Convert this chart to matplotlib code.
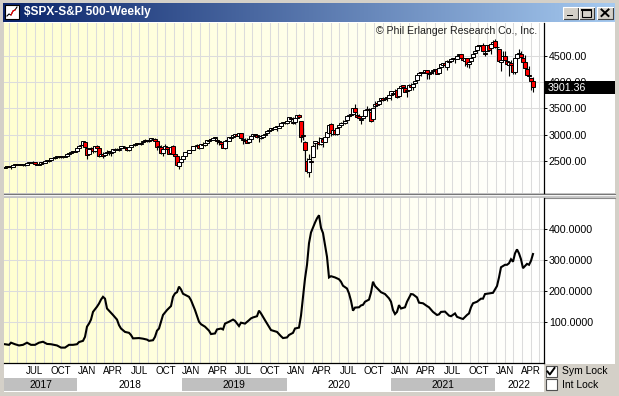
import numpy as np
import matplotlib as mpl
mpl.use('Agg')
import matplotlib.pyplot as plt
from matplotlib.patches import Rectangle
from matplotlib import transforms

plt.rcParams['font.family'] = ['Liberation Sans', 'DejaVu Sans']

# weekly S&P 500 candles, week ending 2017-04-28 .. 2022-05-20
open_17 = [2370, 2389, 2400, 2393, 2387, 2415, 2437, 2434, 2436, 2440, 2422, 2427, 2460, 2476, 2471, 2475, 2441, 2427,
           2445, 2477, 2466, 2501, 2504, 2521, 2552, 2555, 2580, 2583, 2588, 2580, 2582, 2603, 2640, 2652, 2679, 2684]
high_17 = [2399, 2400, 2404, 2406, 2418, 2440, 2447, 2441, 2441, 2443, 2433, 2464, 2478, 2484, 2491, 2475, 2449, 2451,
           2485, 2477, 2500, 2508, 2521, 2552, 2557, 2575, 2582, 2597, 2595, 2597, 2605, 2658, 2652, 2691, 2695, 2686]
low_17 = [2367, 2378, 2381, 2353, 2386, 2412, 2416, 2419, 2431, 2406, 2407, 2419, 2457, 2459, 2467, 2437, 2418, 2417,
          2444, 2446, 2459, 2496, 2488, 2520, 2542, 2547, 2560, 2566, 2566, 2557, 2577, 2601, 2605, 2647, 2673, 2673]
close_17 = [2384, 2399, 2391, 2382, 2416, 2439, 2432, 2433, 2438, 2423, 2425, 2459, 2473, 2472, 2477, 2441, 2426, 2443,
            2477, 2461, 2500, 2502, 2519, 2549, 2553, 2575, 2581, 2588, 2582, 2579, 2602, 2642, 2652, 2676, 2683, 2674]

open_18 = [2683, 2745, 2799, 2809, 2867, 2741, 2637, 2722, 2745, 2681, 2790, 2752, 2592, 2633, 2614, 2659, 2680, 2643,
           2669, 2722, 2717, 2706, 2741, 2782, 2774, 2742, 2704, 2765, 2796, 2806, 2821, 2840, 2826, 2858, 2878, 2898,
           2881, 2906, 2925, 2926, 2882, 2763, 2773, 2645, 2726, 2774, 2730, 2659, 2790, 2631, 2590, 2401]
high_18 = [2744, 2800, 2818, 2873, 2870, 2763, 2755, 2761, 2790, 2787, 2802, 2762, 2659, 2672, 2675, 2718, 2683, 2685,
           2732, 2742, 2743, 2742, 2791, 2790, 2774, 2745, 2764, 2805, 2815, 2848, 2842, 2848, 2855, 2877, 2916, 2898,
           2907, 2941, 2940, 2939, 2894, 2817, 2797, 2736, 2815, 2775, 2735, 2760, 2800, 2685, 2601, 2520]
low_18 = [2682, 2743, 2769, 2808, 2759, 2533, 2637, 2690, 2647, 2676, 2742, 2585, 2594, 2553, 2610, 2636, 2612, 2594,
          2663, 2700, 2708, 2699, 2740, 2755, 2741, 2698, 2698, 2764, 2789, 2795, 2804, 2826, 2799, 2853, 2878, 2864,
          2865, 2904, 2905, 2875, 2710, 2750, 2628, 2603, 2721, 2671, 2631, 2649, 2621, 2584, 2409, 2347]
close_18 = [2743, 2786, 2810, 2873, 2762, 2620, 2732, 2747, 2691, 2787, 2752, 2588, 2641, 2604, 2656, 2670, 2670, 2663,
            2728, 2713, 2721, 2735, 2779, 2779, 2755, 2718, 2760, 2801, 2802, 2819, 2840, 2833, 2850, 2875, 2902, 2872,
            2905, 2930, 2914, 2886, 2767, 2768, 2659, 2723, 2781, 2736, 2633, 2760, 2633, 2600, 2417, 2486]

open_19 = [2476, 2531, 2597, 2670, 2658, 2703, 2713, 2780, 2798, 2800, 2750, 2812, 2796, 2848, 2889, 2910, 2898, 2941,
           2908, 2863, 2862, 2832, 2752, 2882, 2886, 2951, 2964, 2979, 3017, 2981, 3034, 2898, 2896, 2898, 2866, 2910,
           2980, 3003, 2996, 2967, 2944, 2963, 2996, 3031, 3078, 3096, 3118, 3117, 3144, 3135, 3166, 3227]
high_19 = [2539, 2598, 2675, 2681, 2709, 2727, 2776, 2797, 2816, 2804, 2830, 2860, 2840, 2894, 2911, 2916, 2940, 2954,
           2941, 2892, 2868, 2840, 2876, 2911, 2964, 2964, 2996, 3018, 3018, 3028, 3028, 2944, 2941, 2940, 2940, 2985,
           3021, 3022, 2999, 2993, 2993, 3000, 3028, 3067, 3098, 3120, 3127, 3145, 3150, 3183, 3226, 3248]
low_19 = [2444, 2520, 2595, 2631, 2653, 2681, 2703, 2770, 2774, 2729, 2747, 2786, 2785, 2848, 2869, 2896, 2898, 2920,
          2825, 2801, 2805, 2750, 2728, 2870, 2880, 2913, 2954, 2963, 2967, 2975, 2914, 2822, 2834, 2834, 2855, 2906,
          2978, 2983, 2942, 2855, 2918, 2952, 2978, 3019, 3051, 3080, 3091, 3111, 3070, 3131, 3166, 3227]
close_19 = [2532, 2596, 2671, 2665, 2707, 2708, 2776, 2793, 2804, 2743, 2822, 2801, 2834, 2893, 2907, 2905, 2940, 2946,
            2881, 2860, 2826, 2752, 2873, 2887, 2950, 2942, 2990, 3014, 2977, 3026, 2932, 2919, 2889, 2847, 2926, 2979,
            3007, 2992, 2962, 2952, 2970, 2986, 3023, 3067, 3093, 3120, 3110, 3141, 3146, 3169, 3221, 3240]

open_20 = [3248, 3217, 3271, 3323, 3247, 3235, 3318, 3369, 3257, 2974, 2863, 2508, 2290, 2499, 2578, 2842, 2845, 2869,
           2815, 2915, 2868, 2949, 3038, 3199, 3017, 3094, 3018, 3155, 3191, 3224, 3219, 3288, 3357, 3368, 3398, 3509,
           3370, 3352, 3285, 3326, 3349, 3491, 3493, 3441, 3296, 3553, 3600, 3579, 3653, 3698, 3680, 3722, 3694]
high_20 = [3259, 3275, 3330, 3338, 3333, 3337, 3381, 3393, 3259, 3137, 2883, 2553, 2637, 2641, 2818, 2880, 2888, 2955,
           2938, 2933, 2957, 3068, 3211, 3233, 3155, 3099, 3166, 3186, 3238, 3279, 3273, 3352, 3388, 3399, 3510, 3588,
           3426, 3391, 3324, 3372, 3486, 3549, 3502, 3464, 3529, 3646, 3623, 3645, 3706, 3712, 3727, 3726, 3760]
low_20 = [3214, 3212, 3263, 3281, 3214, 3214, 3315, 3328, 2855, 2901, 2478, 2280, 2192, 2447, 2578, 2762, 2727, 2798,
          2798, 2767, 2853, 2910, 3025, 2984, 3000, 2999, 3001, 3100, 3164, 3198, 3204, 3282, 3328, 3355, 3387, 3349,
          3330, 3292, 3209, 3324, 3344, 3441, 3415, 3234, 3280, 3511, 3545, 3567, 3624, 3634, 3663, 3636, 3694]
close_20 = [3235, 3265, 3330, 3295, 3226, 3328, 3380, 3338, 2954, 2972, 2711, 2305, 2541, 2489, 2790, 2875, 2837, 2831,
            2930, 2864, 2955, 3044, 3194, 3041, 3098, 3009, 3130, 3185, 3225, 3216, 3271, 3351, 3373, 3397, 3508, 3427,
            3341, 3319, 3298, 3348, 3477, 3484, 3465, 3270, 3509, 3585, 3558, 3638, 3699, 3663, 3709, 3703, 3756]

open_21 = [3764, 3803, 3788, 3851, 3732, 3892, 3939, 3885, 3842, 3844, 3942, 3916, 3993, 4034, 4130, 4189, 4186, 4191,
           4228, 4169, 4168, 4216, 4230, 4248, 4174, 4284, 4326, 4372, 4296, 4409, 4406, 4437, 4462, 4450, 4513, 4532,
           4469, 4407, 4459, 4348, 4409, 4475, 4553, 4610, 4708, 4689, 4712, 4550, 4589, 4710, 4652, 4733]
high_21 = [3827, 3810, 3862, 3852, 3888, 3938, 3950, 3929, 3901, 3961, 3983, 3978, 4021, 4129, 4192, 4195, 4219, 4238,
           4238, 4188, 4211, 4234, 4255, 4257, 4287, 4356, 4372, 4394, 4415, 4429, 4440, 4468, 4469, 4510, 4546, 4536,
           4487, 4465, 4466, 4429, 4476, 4559, 4608, 4718, 4715, 4717, 4744, 4652, 4713, 4732, 4741, 4808]
low_21 = [3662, 3764, 3786, 3694, 3725, 3885, 3885, 3805, 3723, 3830, 3894, 3853, 3955, 4034, 4125, 4118, 4168, 4172,
          4057, 4062, 4152, 4164, 4218, 4165, 4174, 4279, 4289, 4319, 4233, 4367, 4385, 4425, 4367, 4437, 4509, 4457,
          4429, 4306, 4288, 4279, 4397, 4475, 4547, 4596, 4630, 4665, 4585, 4495, 4588, 4603, 4531, 4733]
close_21 = [3825, 3768, 3841, 3714, 3887, 3935, 3907, 3811, 3842, 3943, 3913, 3975, 4020, 4129, 4185, 4180, 4181, 4233,
            4174, 4156, 4204, 4230, 4247, 4166, 4281, 4352, 4370, 4327, 4412, 4395, 4437, 4468, 4442, 4509, 4535, 4459,
            4433, 4455, 4357, 4391, 4471, 4545, 4605, 4698, 4683, 4698, 4595, 4538, 4712, 4621, 4726, 4766]

open_22 = [4778, 4665, 4632, 4381, 4432, 4505, 4412, 4333, 4363, 4327, 4202, 4462, 4541, 4547, 4463, 4385, 4261, 4130,
           4082, 4021]
high_22 = [4818, 4749, 4632, 4453, 4596, 4589, 4490, 4385, 4416, 4258, 4465, 4546, 4637, 4593, 4471, 4513, 4308, 4307,
           4081, 4091]
low_22 = [4662, 4582, 4395, 4223, 4425, 4401, 4323, 4115, 4262, 4157, 4162, 4423, 4516, 4450, 4381, 4270, 4129, 4063,
          3859, 3810]
close_22 = [4677, 4663, 4398, 4432, 4501, 4419, 4349, 4385, 4329, 4204, 4463, 4543, 4546, 4488, 4393, 4272, 4132, 4123,
            4024, 3901]

last_close = 3901.36

# lower indicator (week index, value)
osc_week = [0, 2, 3, 5, 7, 9, 11, 13, 15, 17, 19, 21, 23, 26, 28, 30, 32, 34, 36, 37, 39, 40, 41, 42, 43, 44, 46, 47,
            48, 49, 50, 51, 52, 54, 56, 57, 58, 60, 62, 63, 64, 67, 69, 71, 72, 74, 75, 76, 77, 78, 79, 81, 83, 84, 85,
            86, 87, 88, 89, 92, 93, 95, 97, 98, 100, 102, 103, 105, 106, 108, 109, 110, 112, 114, 115, 117, 118, 120,
            122, 123, 124, 126, 127, 128, 130, 132, 133, 136, 138, 139, 141, 142, 144, 145, 147, 148, 149, 150, 151,
            152, 153, 154, 155, 156, 157, 158, 159, 160, 161, 162, 163, 165, 167, 168, 169, 171, 172, 173, 174, 175,
            177, 178, 179, 180, 182, 183, 184, 185, 187, 188, 190, 192, 193, 194, 195, 196, 197, 198, 200, 201, 203,
            204, 206, 207, 209, 211, 212, 214, 216, 217, 218, 220, 222, 223, 225, 226, 228, 229, 231, 232, 233, 234,
            236, 238, 239, 240, 242, 244, 245, 246, 247, 248, 250, 251, 252, 253, 254, 255, 256, 257, 258, 259, 260,
            261, 262, 263, 264]
osc_value = [27, 25, 32, 27, 23, 25, 32, 25, 25, 32, 35, 28, 27, 23, 16, 16, 25, 25, 27, 34, 38, 51, 84, 94, 107, 132,
             149, 159, 172, 181, 175, 143, 136, 122, 107, 89, 78, 67, 64, 57, 46, 47, 45, 42, 38, 40, 51, 71, 78, 100,
             122, 138, 151, 181, 192, 196, 214, 205, 191, 181, 170, 138, 100, 92, 84, 71, 60, 62, 75, 78, 75, 94, 100,
             107, 103, 86, 97, 94, 105, 111, 114, 118, 136, 127, 105, 84, 73, 67, 53, 47, 49, 57, 64, 78, 81, 120, 181,
             240, 285, 355, 390, 406, 422, 436, 446, 405, 388, 350, 311, 244, 248, 244, 238, 230, 217, 208, 192, 168,
             136, 146, 147, 153, 155, 165, 172, 195, 230, 216, 203, 196, 190, 176, 165, 138, 125, 132, 154, 143, 147,
             165, 190, 189, 179, 162, 160, 151, 147, 132, 122, 124, 132, 133, 120, 118, 127, 116, 111, 109, 122, 127,
             147, 160, 165, 175, 175, 190, 192, 194, 205, 216, 244, 277, 285, 285, 290, 303, 295, 322, 335, 322, 303,
             274, 281, 288, 285, 298, 320]

price_ticks = [2500, 3000, 3500, 4000, 4500]
osc_ticks = [100, 200, 300, 400]
month_names = ['JUL', 'OCT', 'JAN', 'APR', 'JUL', 'OCT', 'JAN', 'APR', 'JUL', 'OCT',
               'JAN', 'APR', 'JUL', 'OCT', 'JAN', 'APR', 'JUL', 'OCT', 'JAN', 'APR']
month_pos = [14.9, 27.95, 41.0, 54.05, 67.1, 80.15, 93.2, 106.25, 119.3, 132.35,
             145.4, 158.45, 171.5, 184.55, 197.6, 210.65, 223.7, 236.75, 249.8, 262.85]
year_names = ['2017', '2018', '2019', '2020', '2021', '2022']
year_edges = [-0.5, 36.1, 88.6, 140.8, 193.0, 245.0, 269.5]

o = np.array(open_17 + open_18 + open_19 + open_20 + open_21 + open_22, float)
h = np.array(high_17 + high_18 + high_19 + high_20 + high_21 + high_22, float)
l = np.array(low_17 + low_18 + low_19 + low_20 + low_21 + low_22, float)
c = np.array(close_17 + close_18 + close_19 + close_20 + close_21 + close_22, float)
c[-1] = last_close
weeks = np.arange(len(c))

W, H = 619, 396
fig = plt.figure(figsize=(W / 100, H / 100), dpi=100)
fig.patch.set_facecolor('#d4d0c8')


def px_axes(x0, y0, x1, y1, z=1):
    return fig.add_axes([x0 / W, 1 - y1 / H, (x1 - x0) / W, (y1 - y0) / H], zorder=z)


# window chrome, in pixel coords
chrome = px_axes(0, 0, W, H, z=0)
chrome.axis('off')
tb = np.zeros((1, 256, 3))
tb[0, :, 0] = np.linspace(10, 166, 256) / 255
tb[0, :, 1] = np.linspace(36, 202, 256) / 255
tb[0, :, 2] = np.linspace(106, 240, 256) / 255
chrome.imshow(tb, extent=[3, 615, 22, 3], aspect='auto', interpolation='bilinear')
chrome.add_patch(Rectangle((3.5, 22), 611, 370, fc='white', ec='none'))
chrome.add_patch(Rectangle((544, 364), 71, 28, fc='#d4d0c8', ec='none'))
chrome.add_patch(Rectangle((3.5, 193), 611, 5, fc='#c8c8c8', ec='none'))
chrome.plot([3.5, 614.5], [193.5, 193.5], color='#707070', lw=0.8)
chrome.plot([3.5, 614.5], [194.5, 194.5], color='#f4f4f4', lw=0.8)
chrome.plot([3.5, 614.5], [197.5, 197.5], color='#8a8a8a', lw=0.8)
chrome.text(24, 12.5, '$SPX-S&P 500-Weekly', color='white', fontsize=8.6, fontweight='bold',
            ha='left', va='center')
# little icon
chrome.add_patch(Rectangle((5, 5), 14, 14, fc='white', ec='black', lw=0.8))
chrome.plot([7, 9, 11, 13, 15, 17], [16, 14, 15, 11, 10, 7], color='black', lw=0.8)
chrome.plot([11, 13, 15], [15, 11, 10], color='#ff0000', lw=0.8)


def button(x0, x1, glyph):
    y0, y1 = 7, 19
    chrome.add_patch(Rectangle((x0, y0), x1 - x0, y1 - y0, fc='#d4d0c8', ec='none'))
    chrome.plot([x0, x1, x1], [y1, y1, y0], color='#404040', lw=0.8)
    chrome.plot([x0, x0, x1], [y1, y0, y0], color='white', lw=0.8)
    cx = (x0 + x1) / 2
    if glyph == 'min':
        chrome.add_patch(Rectangle((cx - 3.5, 14.5), 6, 1.8, fc='black', ec='none'))
    elif glyph == 'max':
        chrome.add_patch(Rectangle((cx - 4.5, 9.5), 9, 7, fc='none', ec='black', lw=0.8))
        chrome.plot([cx - 4.5, cx + 4.5], [10, 10], color='black', lw=1.4)
    else:
        chrome.plot([cx - 3.5, cx + 3.5], [9.5, 16], color='black', lw=1.4)
        chrome.plot([cx - 3.5, cx + 3.5], [16, 9.5], color='black', lw=1.4)


button(563, 578, 'min')
button(579, 594, 'max')
button(597, 613, 'close')

# lock checkboxes
for yb, txt, checked in [(366, 'Sym Lock', True), (379, 'Int Lock', False)]:
    chrome.add_patch(Rectangle((545.5, yb), 11, 11, fc='white', ec='#505050', lw=0.8))
    if checked:
        chrome.plot([547.5, 549.8, 554.5], [yb + 5.5, yb + 8.5, yb + 2], color='black', lw=1.4)
    chrome.text(562, yb + 5.5, txt, fontsize=7.5, ha='left', va='center', color='black')
chrome.set_xlim(0, W)
chrome.set_ylim(H, 0)

grid_color = '#dcdcdc'
grid_x = np.arange(1.85, 269.5, 4.35)


def panel_bg(ax):
    g = np.ones((1, 256, 3))
    g[0, :, 2] = np.linspace(0.82, 1.0, 256)
    ax.imshow(g, extent=[0, 1, 0, 1], transform=ax.transAxes, aspect='auto', zorder=0,
              interpolation='bilinear')
    for gx in grid_x:
        ax.axvline(gx, color=grid_color, lw=0.75, zorder=1)
    for sp in ['left', 'top', 'bottom']:
        ax.spines[sp].set_visible(False)
    ax.spines['right'].set_linewidth(0.9)
    ax.yaxis.tick_right()
    ax.tick_params(axis='y', length=2.3, width=0.7, pad=1.2, labelsize=7.65, colors='black')


# price panel
ax1 = px_axes(4, 23, 544, 193)
panel_bg(ax1)
for p in price_ticks:
    ax1.axhline(p, color=grid_color, lw=0.75, zorder=1)
up = c >= o
body = np.maximum(np.abs(c - o), 14)
ax1.vlines(weeks, l, h, color='black', lw=0.8, zorder=3)
ax1.bar(weeks, body, bottom=np.minimum(o, c), width=1.8, color=np.where(up, 'white', '#ff0000'),
        edgecolor='black', linewidth=0.7, zorder=4)
ax1.set_xlim(-0.5, 269.5)
ax1.set_ylim(1890, 5129)
ax1.set_xticks([])
ax1.set_yticks(price_ticks, ['%.2f' % p for p in price_ticks])
ax1.text(0.987, 0.955, '\u00a9 Phil Erlanger Research Co., Inc.', transform=ax1.transAxes,
         ha='right', va='center', fontsize=7.6, color='#202020', zorder=5)

# last price tag
dpp = (5129 - 1890) / 170
tag = transforms.blended_transform_factory(ax1.transAxes, ax1.transData)
ax1.add_patch(Rectangle((1 + 1 / 540, last_close - 6.8 * dpp), 70 / 540, 13.6 * dpp, transform=tag,
                        fc='black', ec='none', clip_on=False, zorder=6))
ax1.text(1 + 4 / 540, last_close, '%.2f' % last_close, transform=tag, color='white', fontsize=7.65,
         ha='left', va='center_baseline', clip_on=False, zorder=7)

# indicator panel
ax2 = px_axes(4, 198, 544, 363)
panel_bg(ax2)
ax2.spines['bottom'].set_visible(True)
ax2.spines['bottom'].set_linewidth(0.9)
for v in osc_ticks:
    ax2.axhline(v, color=grid_color, lw=0.75, zorder=1)
ax2.plot(osc_week, osc_value, color='black', lw=1.5, zorder=3, solid_joinstyle='miter')
ax2.set_xlim(-0.5, 269.5)
ax2.set_ylim(-34, 502)
ax2.set_yticks(osc_ticks, ['%.4f' % v for v in osc_ticks])
ax2.set_xticks(month_pos, month_names)
ax2.tick_params(axis='x', length=0, pad=1.8, labelsize=7.0, colors='black')

# year strip under the month labels
ytr = transforms.blended_transform_factory(ax2.transData, ax2.transAxes)
for k, name in enumerate(year_names):
    x0, x1 = year_edges[k], year_edges[k + 1]
    ax2.add_patch(Rectangle((x0, -0.170), x1 - x0, 0.082, transform=ytr, clip_on=False,
                            fc='#c0c0c0' if k % 2 == 0 else 'white', ec='none', zorder=2))
    ax2.text((x0 + x1) / 2, -0.131, name, transform=ytr, ha='center', va='center',
             fontsize=7.4, color='black', clip_on=False, zorder=3)

fig.savefig('out.png', dpi=100, facecolor=fig.get_facecolor())
